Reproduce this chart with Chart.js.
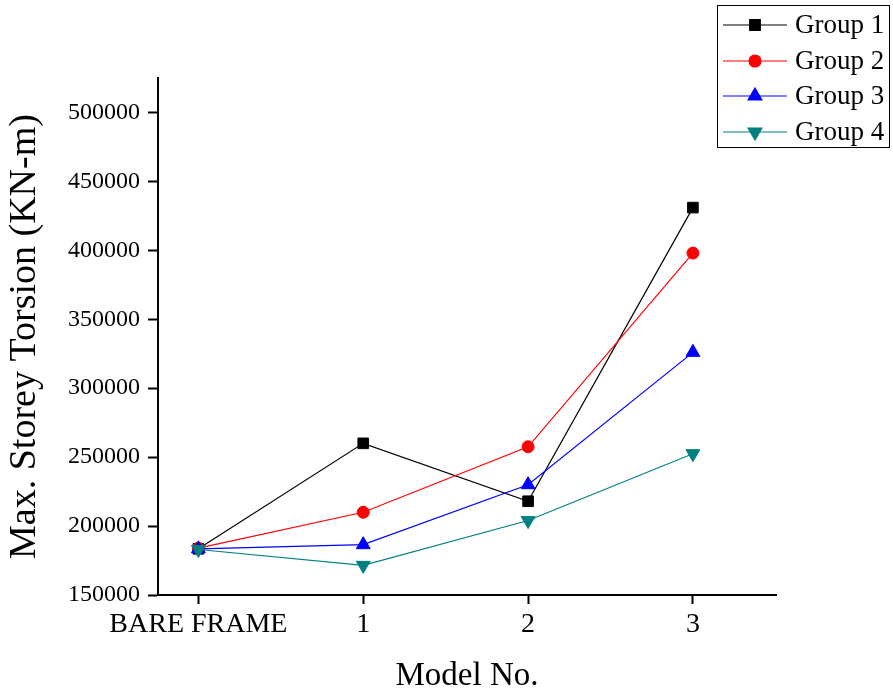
<!DOCTYPE html>
<html>
<head>
<meta charset="utf-8">
<script src="https://cdn.jsdelivr.net/npm/chart.js@4.4.1/dist/chart.umd.min.js"></script>
<style>
  html, body { margin: 0; padding: 0; background: #fff; }
  #wrap { width: 893px; height: 698px; }
</style>
</head>
<body>
<div id="wrap"><canvas id="chart" width="893" height="698"></canvas></div>
<script>
// data
const models = ['BARE FRAME', '1', '2', '3'];
const group1 = [183500, 260000, 218000, 431000];
const group2 = [184000, 210000, 257500, 398000];
const group3 = [183500, 186500, 230000, 326000];
const group4 = [183000, 171500, 204000, 252500];
const yTicks = [150000, 200000, 250000, 300000, 350000, 400000, 450000, 500000];

const serif = 'Liberation Serif';

function pts(arr) {
  return arr.map((v, i) => ({ x: i, y: v }));
}

function ds(label, data, color, style, radius, rot, order) {
  return {
    label: label,
    data: pts(data),
    borderColor: color,
    backgroundColor: color,
    pointBackgroundColor: color,
    pointBorderColor: color,
    borderWidth: 1.2,
    pointStyle: style,
    pointRadius: radius,
    pointRotation: rot,
    pointBorderWidth: 1,
    tension: 0,
    fill: false,
    order: order
  };
}

// legend box with line + marker, like the original
const boxLegend = {
  id: 'boxLegend',
  afterDraw(chart) {
    const ctx = chart.ctx;
    const rows = [25, 61, 96, 132];
    ctx.save();
    ctx.strokeStyle = '#000';
    ctx.lineWidth = 1;
    ctx.strokeRect(717.5, 5.5, 172, 142);
    chart.data.datasets.forEach((d, i) => {
      const y = rows[i];
      ctx.strokeStyle = d.borderColor;
      ctx.lineWidth = 1.2;
      ctx.beginPath();
      ctx.moveTo(723, y);
      ctx.lineTo(787, y);
      ctx.stroke();
      ctx.fillStyle = d.backgroundColor;
      Chart.helpers.drawPoint(ctx, {
        pointStyle: d.pointStyle,
        radius: d.pointRadius,
        rotation: d.pointRotation,
        borderWidth: 1
      }, 755, y);
      ctx.fillStyle = '#000';
      ctx.font = '27px "' + serif + '"';
      ctx.textBaseline = 'middle';
      ctx.textAlign = 'left';
      ctx.fillText(d.label, 795, y + 1);
    });
    ctx.restore();
  }
};

new Chart(document.getElementById('chart'), {
  type: 'line',
  data: {
    datasets: [
      ds('Group 1', group1, '#000000', 'rect', 7.5, 0, 3),
      ds('Group 2', group2, '#ff0000', 'circle', 6, 0, 2),
      ds('Group 3', group3, '#0000ff', 'triangle', 8, 0, 1),
      ds('Group 4', group4, '#008080', 'triangle', 8, 180, 0)
    ]
  },
  options: {
    responsive: false,
    animation: false,
    layout: { padding: { top: 78, right: 117, left: 0, bottom: 0 } },
    plugins: {
      legend: { display: false },
      tooltip: { enabled: false }
    },
    scales: {
      x: {
        type: 'linear',
        min: -0.245,
        max: 3.504,
        afterBuildTicks: s => { s.ticks = models.map((m, i) => ({ value: i })); },
        afterFit: s => { s.height = 103; },
        grid: { drawOnChartArea: false, drawTicks: true, tickLength: 9, color: '#000', tickWidth: 2 },
        border: { display: true, color: '#000', width: 2 },
        ticks: {
          color: '#000',
          padding: 4,
          maxRotation: 0,
          font: { family: serif, size: 28 },
          callback: v => models[v]
        },
        title: {
          display: true,
          text: 'Model No.',
          color: '#000',
          font: { family: serif, size: 33 },
          padding: { top: 2, bottom: 2 }
        }
      },
      y: {
        min: 150000,
        max: 525000,
        afterBuildTicks: s => { s.ticks = yTicks.map(v => ({ value: v })); },
        afterFit: s => { s.width = 158; },
        grid: { drawOnChartArea: false, drawTicks: true, tickLength: 10, color: '#000', tickWidth: 2 },
        border: { display: true, color: '#000', width: 2 },
        ticks: {
          color: '#000',
          padding: 8,
          font: { family: serif, size: 24 },
          callback: v => String(v)
        },
        title: {
          display: true,
          text: 'Max. Storey Torsion (KN-m)',
          color: '#000',
          font: { family: serif, size: 38 },
          padding: { top: 2, bottom: 0 }
        }
      }
    }
  },
  plugins: [boxLegend]
});
</script>
</body>
</html>
